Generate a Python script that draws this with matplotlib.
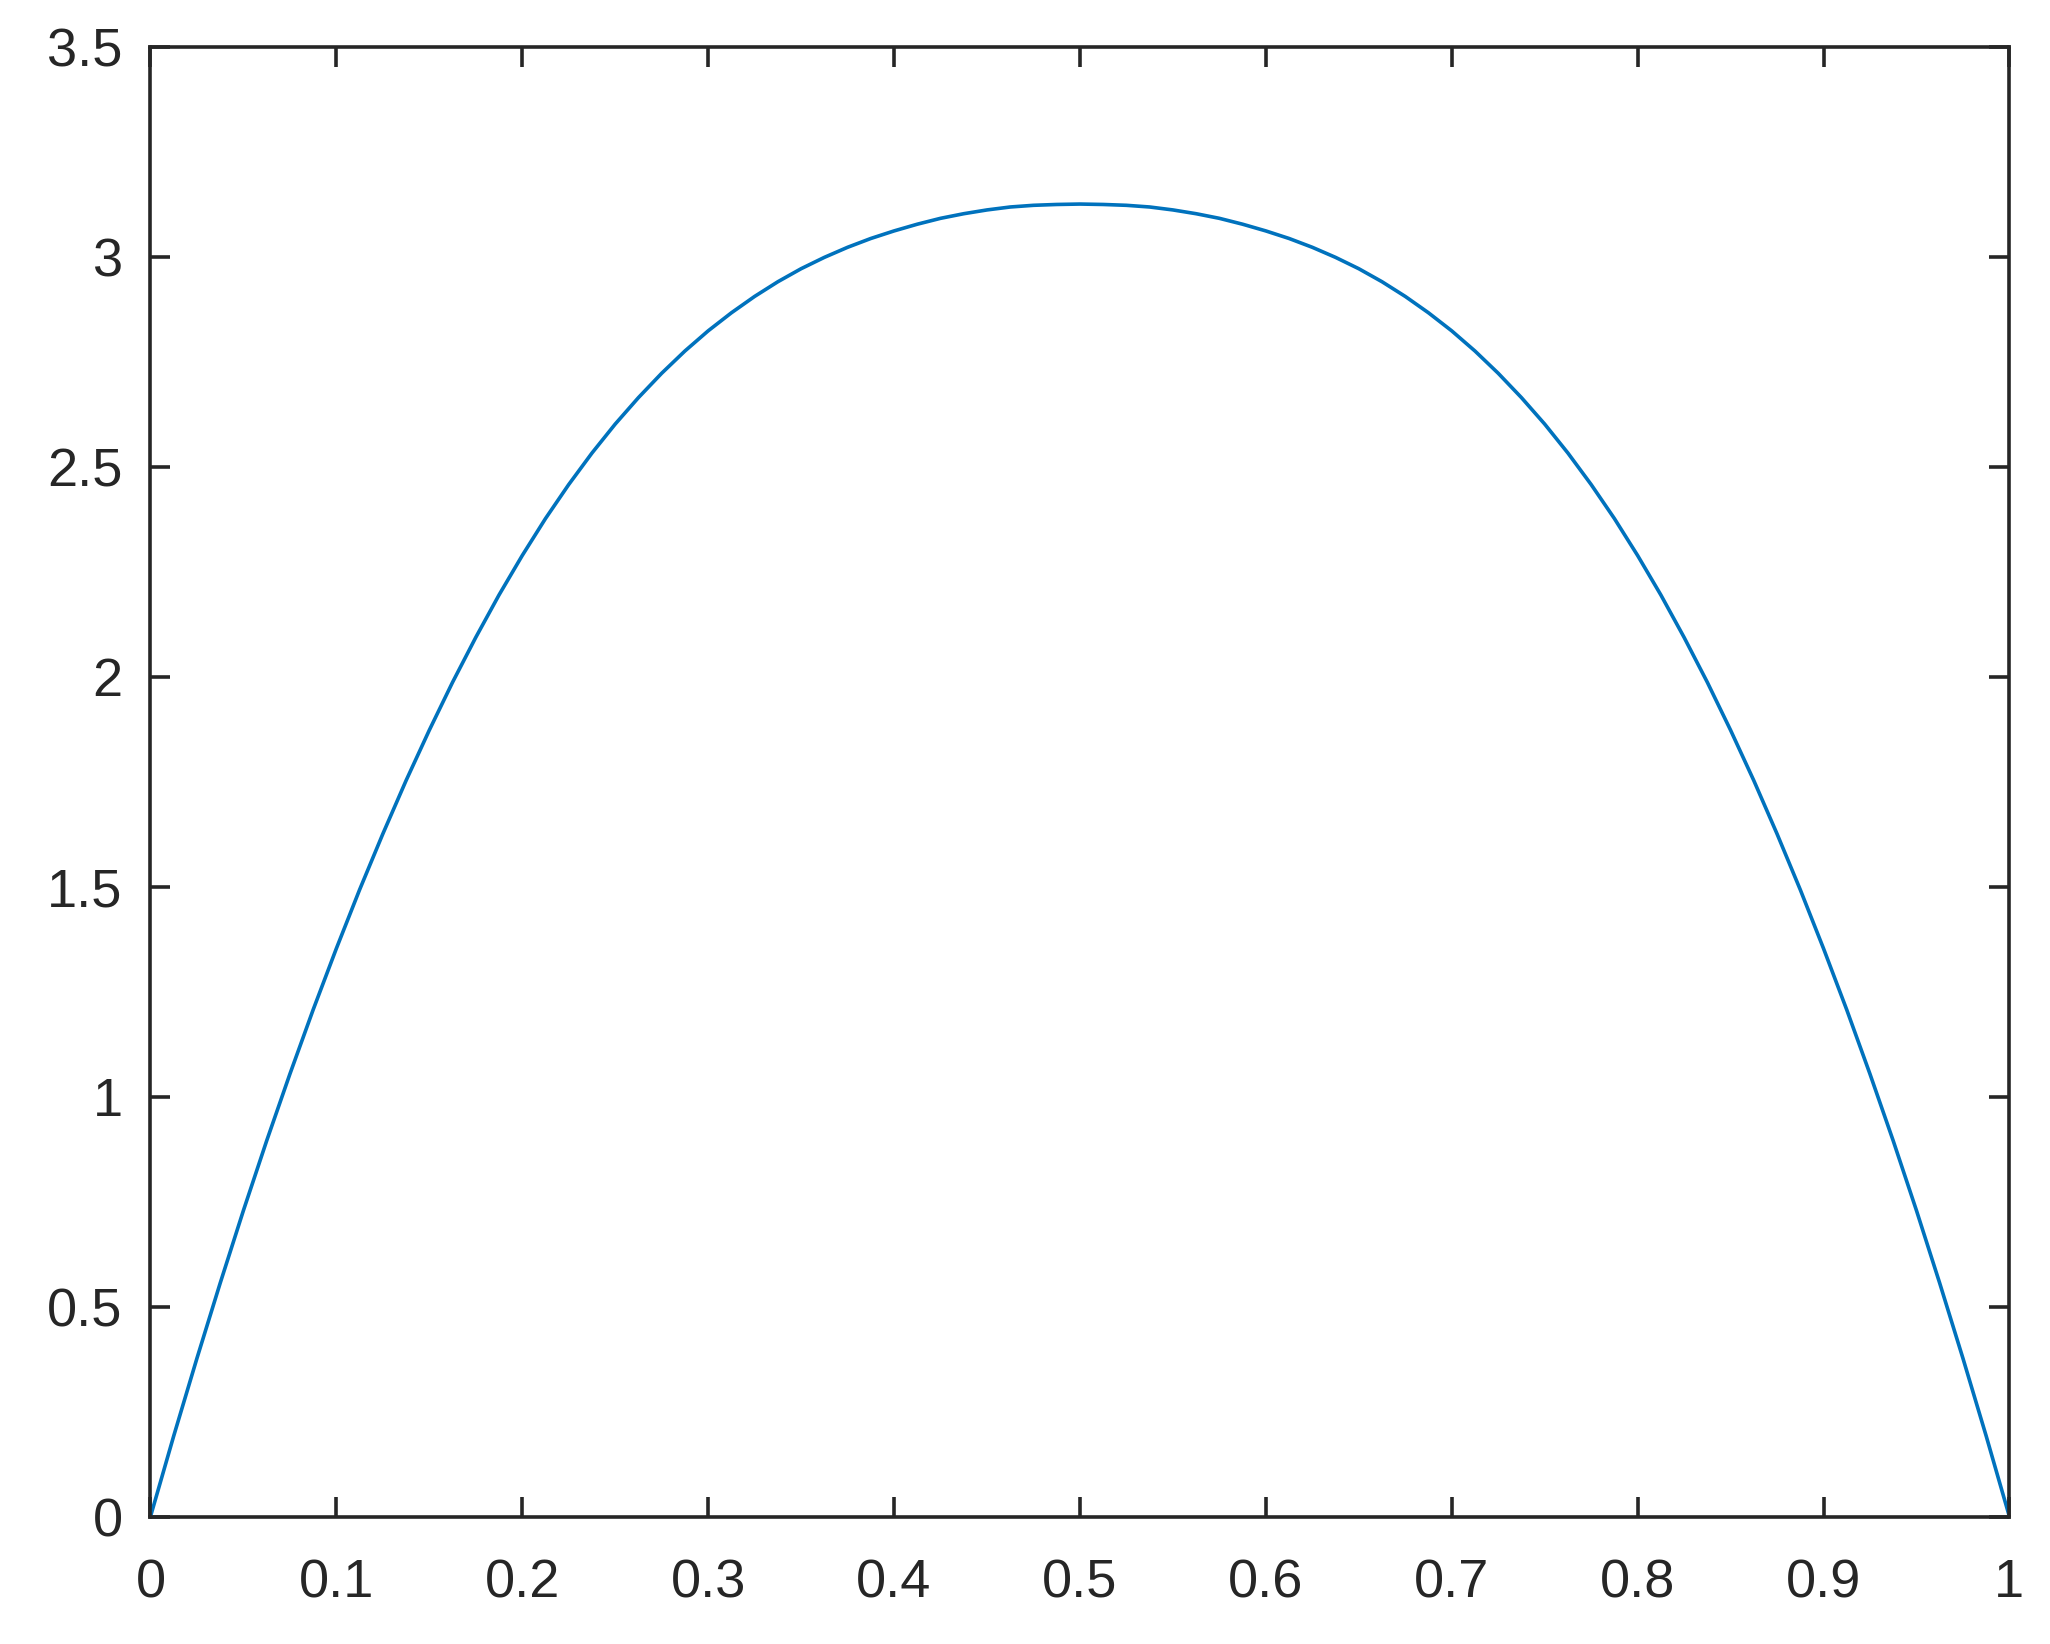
import matplotlib
matplotlib.use("Agg")
import matplotlib.pyplot as plt

# curve values (x step 0.0125)
x_vals = [i * 0.0125 for i in range(81)]
y_vals = [0.0, 0.192, 0.377, 0.556, 0.729, 0.895, 1.054, 1.207, 1.353, 1.493,
          1.626, 1.753, 1.873, 1.987, 2.094, 2.195, 2.289, 2.377, 2.458, 2.533,
          2.602, 2.665, 2.723, 2.776, 2.824, 2.867, 2.906, 2.941, 2.972, 2.999,
          3.023, 3.044, 3.062, 3.078, 3.092, 3.103, 3.112, 3.119, 3.123, 3.125,
          3.126,
          3.125, 3.123, 3.119, 3.112, 3.103, 3.092, 3.078, 3.062, 3.044, 3.023,
          2.999, 2.972, 2.941, 2.906, 2.867, 2.824, 2.776, 2.723, 2.665, 2.602,
          2.533, 2.458, 2.377, 2.289, 2.195, 2.094, 1.987, 1.873, 1.753, 1.626,
          1.493, 1.353, 1.207, 1.054, 0.895, 0.729, 0.556, 0.377, 0.192, 0.0]

x_ticks = [0, 0.1, 0.2, 0.3, 0.4, 0.5, 0.6, 0.7, 0.8, 0.9, 1]
x_labels = ['0', '0.1', '0.2', '0.3', '0.4', '0.5', '0.6', '0.7', '0.8', '0.9', '1']
y_ticks = [0, 0.5, 1, 1.5, 2, 2.5, 3, 3.5]
y_labels = ['0', '0.5', '1', '1.5', '2', '2.5', '3', '3.5']

plt.rcParams['font.family'] = ['Liberation Sans', 'DejaVu Sans']
axis_col = '#262626'

fig = plt.figure(figsize=(10.25, 8.22), dpi=200)
ax = fig.add_axes([0.0734, 0.0775, 0.9068, 0.8939])

ax.plot(x_vals, y_vals, color='#0072BD', linewidth=1.3)

ax.set_xlim(0, 1)
ax.set_ylim(0, 3.5)
ax.set_xticks(x_ticks)
ax.set_xticklabels(x_labels)
ax.set_yticks(y_ticks)
ax.set_yticklabels(y_labels)

for s in ax.spines.values():
    s.set_color(axis_col)
    s.set_linewidth(1.3)

ax.tick_params(direction='in', length=7.2, width=1.3, color=axis_col,
               labelcolor=axis_col, labelsize=19.5, top=True, right=True)
ax.tick_params(axis='x', pad=15)
ax.tick_params(axis='y', pad=10)

fig.savefig('out.png', dpi=200, facecolor='white')
